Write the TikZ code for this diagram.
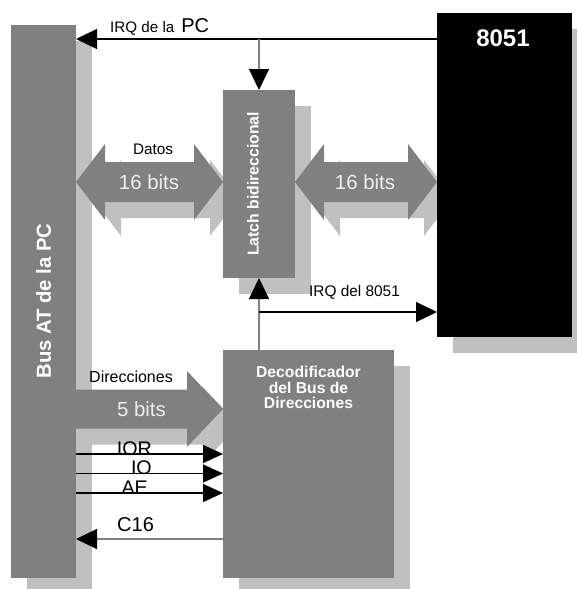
\documentclass[tikz,border=0pt]{standalone}
\usepackage{fontspec}
\setmainfont{Liberation Sans}
\usetikzlibrary{arrows.meta,calc}
\definecolor{blk}{HTML}{808080}
\definecolor{shd}{HTML}{C0C0C0}
\definecolor{lite}{HTML}{EEEEEE}
\pgfdeclarelayer{shadow}
\pgfsetlayers{shadow,main}
\newcommand\fsz[1]{\fontsize{#1}{#1}\selectfont}
\tikzset{
  block/.style={fill=blk, draw=none, inner sep=0pt, outer sep=0pt},
  cpublock/.style={fill=black, draw=none, inner sep=0pt, outer sep=0pt},
  wlbl/.style={text=white, font=\bfseries, inner sep=0pt},
  plainlbl/.style={text=black, inner sep=0pt},
  bitlbl/.style={text=lite, inner sep=0pt, font=\fsz{20.4}},
  blackline/.style={draw=black, line width=1.2pt},
  grayline/.style={draw=blk, line width=1.2pt},
  bigtip/.style={-{Triangle[length=21pt,width=20pt,color=black]}},
  smalltip/.style={-{Triangle[length=20pt,width=18pt,color=black]}},
}
\begin{document}
\begin{tikzpicture}[x=1pt,y=-1pt]
\useasboundingbox (0,0) rectangle (577,589);
% blocks
\node[block, minimum width=65pt, minimum height=553pt] (bus) at (43.5,301.5) {};
\node[block, minimum width=72pt, minimum height=188pt] (latch) at (259,184) {};
\node[cpublock, minimum width=135pt, minimum height=324pt] (cpu) at (504.5,175) {};
\node[block, minimum width=171pt, minimum height=228pt] (dec) at (308.5,464) {};
% shadows
\begin{pgfonlayer}{shadow}
  \fill[shd] ($(bus.north west)+(16,16)$) rectangle ($(bus.south east)+(16,16)$);
  \fill[shd] ($(latch.north west)+(16,16)$) rectangle ($(latch.south east)+(16,16)$);
  \fill[shd] ($(cpu.north west)+(16,16)$) rectangle ($(cpu.south east)+(16,16)$);
  \fill[shd] ($(dec.north west)+(16,16)$) rectangle ($(dec.south east)+(16,16)$);
\end{pgfonlayer}
% fat arrow coordinates
\coordinate (dL) at (bus.east |- 0,182);
\coordinate (dR) at (latch.west |- 0,182);
\coordinate (eL) at (latch.east |- 0,182);
\coordinate (eR) at (cpu.west |- 0,182);
\coordinate (aL) at (bus.east |- 0,409);
\coordinate (aR) at (dec.west |- 0,409);
\newcommand\dblpath[3]{(#1) -- ++(#3,-38) -- ++(0,18) -- ($(#2)+(-#3,-20)$) -- ++(0,-18) -- (#2) -- ++(-#3,38) -- ++(0,-18) -- ($(#1)+(#3,20)$) -- ++(0,18) -- cycle}
\newcommand\sglpath[2]{($(#1)+(0,-19.5)$) -- ($(#2)+(-36,-19.5)$) -- ++(0,-18.5) -- (#2) -- ++(-36,38) -- ++(0,-18.5) -- ($(#1)+(0,19.5)$) -- cycle}
\begin{pgfonlayer}{shadow}
\begin{scope}[transform canvas={xshift=16pt,yshift=-16pt}]
  \fill[shd] \dblpath{dL}{dR}{29};
  \fill[shd] \dblpath{eL}{eR}{29};
  \fill[shd] \sglpath{aL}{aR};
\end{scope}
\end{pgfonlayer}
\fill[blk] \dblpath{dL}{dR}{29};
\fill[blk] \dblpath{eL}{eR}{29};
\fill[blk] \sglpath{aL}{aR};
% block labels
\node[wlbl, rotate=90, font=\bfseries\fsz{20.3}] (buslbl) at (43.5,301) {Bus AT de la PC};
\node[wlbl, rotate=90, font=\bfseries\fsz{15.8}] (latchlbl) at (253,184) {Latch bidireccional};
\node[wlbl, font=\bfseries\fsz{24}] (cpulbl) at (503,38.5) {8051};
\node[wlbl, font=\bfseries\fsz{15.7}, align=center, anchor=north] (declbl) at (308.5,366)
  {\fontsize{15.7}{19.5}\selectfont Decodificador\\del Bus de\\Direcciones};
% bus labels
\node[plainlbl, font=\fsz{15.3}] (datos) at (153,149) {Datos};
\node[bitlbl] (bitsA) at (149,182) {16 bits};
\node[bitlbl] (bitsB) at (365,182) {16 bits};
\node[plainlbl, font=\fsz{16}] (dirlbl) at (131,377) {Direcciones};
\node[bitlbl] (bitsC) at (141.5,409) {5 bits};
% IRQ de la PC
\coordinate (irq) at (cpu.west |- 0,39);
\draw[blackline, bigtip] (irq) -- (bus.east |- irq);
\draw[grayline, bigtip] (latch.north |- irq) -- (latch.north);
\node[plainlbl, anchor=base west] (irqlbl) at (110,32) {\fsz{15.2}IRQ de la\hspace{7pt}\fsz{20}PC};
% IRQ del 8051
\draw[grayline, bigtip] (latch.south |- dec.north) -- (latch.south);
\coordinate (j) at (latch.south |- 0,312);
\draw[blackline, bigtip] (j) -- (cpu.west |- j);
\node[plainlbl, font=\fsz{15.4}] (irq8051) at (354.5,292) {IRQ del 8051};
% control lines
\coordinate (yior) at (0,454);
\coordinate (yio) at (0,473.5);
\coordinate (yae) at (0,493);
\coordinate (yc) at (0,539);
\draw[blackline, smalltip] (bus.east |- yior) -- (dec.west |- yior);
\draw[blackline, smalltip] (bus.east |- yio) -- (dec.west |- yio);
\draw[blackline, smalltip] (bus.east |- yae) -- (dec.west |- yae);
\draw[grayline, bigtip] (dec.west |- yc) -- (bus.east |- yc);
\node[plainlbl, anchor=base east, font=\fsz{19.7}] (iorlbl) at (152,455) {IOR};
\node[plainlbl, anchor=base east, font=\fsz{19.7}] (iolbl) at (152,474) {IO};
\node[plainlbl, anchor=base east, font=\fsz{19.7}] (aelbl) at (148,494) {AE};
\node[plainlbl, anchor=base west, font=\fsz{20}] (c16lbl) at (117,531) {C16};
\end{tikzpicture}
\end{document}
